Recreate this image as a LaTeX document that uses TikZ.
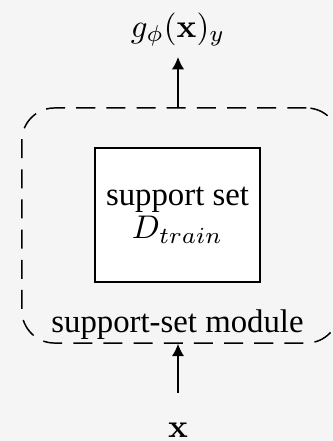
\documentclass[tikz,border=0pt]{standalone}
\usepackage[no-math]{fontspec}
\setmainfont{Liberation Serif}
\usetikzlibrary{arrows.meta}
\definecolor{bgcol}{RGB}{245,245,245}
\begin{document}
\begin{tikzpicture}[x=0.305pt,y=-0.305pt,
  every node/.style={inner sep=0pt, font=\fontsize{10pt}{12pt}\selectfont},
  modulebox/.style={draw, dash pattern=on 5.8pt off 3.4pt, rounded corners=10pt,
    minimum width=96.8pt, minimum height=71.7pt, line width=0.45pt},
  setbox/.style={draw, fill=white, minimum width=50.3pt, minimum height=40.9pt,
    align=center, line width=0.55pt},
  arr/.style={-{Latex[length=3.8pt,width=3.8pt]}, line width=0.45pt}]
  % page background and size
  \fill[bgcol] (0,0) rectangle (333,441);
  \useasboundingbox (0,0) rectangle (333,441);

  % dashed module with its label
  \node[modulebox] (module) at (180.5,225.5) {};
  \node[anchor=base] (lab) at (177.5,332) {support-set module};

  % support set inside the module
  \node[setbox] (set) at (177.5,215) {\raisebox{-0.6pt}{support set}\\[-1.3pt]$D_{train}$};

  % output and input
  \node[anchor=base] (out) at (178,37) {$g_\phi(\mathbf{x})_y$};
  \node[anchor=base] (in) at (178,437) {$\mathbf{x}$};

  \coordinate (outtip) at (178,57);
  \coordinate (intail) at (178,393);

  \draw[arr] (outtip |- module.north) -- (outtip);
  \draw[arr] (intail) -- (intail |- module.south);
\end{tikzpicture}
\end{document}
